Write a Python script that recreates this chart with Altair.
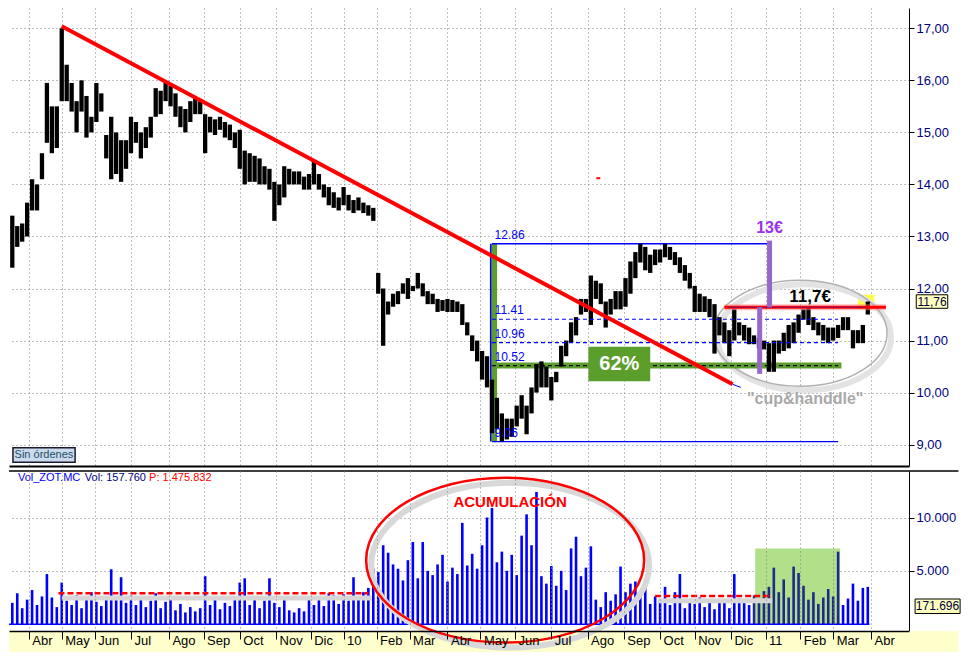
import altair as alt
import pandas as pd

# ---------------- calendar (trading days, Bolsa de Madrid) ----------------
holidays = ["2009-04-10", "2009-04-13", "2009-05-01", "2009-12-24", "2009-12-25",
            "2009-12-31", "2010-01-01", "2010-04-02", "2010-04-05", "2010-12-24",
            "2010-12-31"]
days = pd.bdate_range("2009-03-16", "2011-05-06", freq="C", holidays=holidays)
day_num = pd.Series(range(len(days)), index=days)
firsts = day_num.groupby([days.year, days.month]).first()
tick_idx = [int(v) for (yy, mm), v in firsts.items() if (2009, 4) <= (yy, mm) <= (2011, 4)]

month_labels = ["Abr", "May", "Jun", "Jul", "Ago", "Sep", "Oct", "Nov", "Dic", "10",
                "Feb", "Mar", "Abr", "May", "Jun", "Jul", "Ago", "Sep", "Oct", "Nov",
                "Dic", "11", "Feb", "Mar", "Abr"]
price_ticks = [9, 10, 11, 12, 13, 14, 15, 16, 17]
vol_ticks = [5000, 10000]

# ---------------- price bars (every third session: high / low) ----------------
highs = [
    13.4, 13.2, 13.25, 13.65, 14.1, 14.0, 14.6, 15.95, 15.5, 15.5,
    17.0, 16.3, 15.95, 15.6, 16.0, 15.7, 15.3, 15.95, 15.75, 14.95,
    15.3, 15.0, 14.85, 14.85, 15.3, 15.2, 15.0, 15.1, 15.3, 15.85,
    15.8, 15.95, 15.9, 15.75, 15.5, 15.45, 15.6, 15.67, 15.6, 15.35,
    15.3, 15.25, 15.3, 15.2, 15.15, 15.0, 15.05, 14.65, 14.6, 14.55,
    14.5, 14.35, 14.3, 14.05, 14.0, 14.35, 14.3, 14.25, 14.25, 14.15,
    14.2, 14.45, 14.2, 14.0, 13.95, 13.85, 13.75, 13.95, 13.8, 13.7,
    13.75, 13.65, 13.6, 13.55, 12.3, 12.0, 11.75, 11.9, 11.95, 12.1,
    12.2, 12.05, 12.3, 12.1, 11.95, 11.9, 11.8, 11.78, 11.8, 11.78,
    11.75, 11.7, 11.35, 11.1, 11.0, 10.8, 10.7, 10.25, 9.9, 9.6,
    9.5, 9.5, 9.75, 9.95, 9.75, 10.1, 10.55, 10.6, 10.5, 10.3,
    10.4, 10.9, 11.0, 11.35, 11.45, 11.8, 11.8, 12.25, 12.15, 12.1,
    11.75, 11.8, 11.95, 11.95, 12.2, 12.52, 12.7, 12.86, 12.8, 12.65,
    12.75, 12.75, 12.86, 12.8, 12.7, 12.6, 12.45, 12.3, 12.05, 11.9,
    11.85, 11.8, 11.7, 11.45, 11.35, 11.2, 11.6, 11.35, 11.3, 11.25,
    11.1, 11.05, 11.0, 10.95, 11.0, 11.0, 11.15, 11.3, 11.35, 11.5,
    11.6, 11.65, 11.45, 11.35, 11.3, 11.25, 11.25, 11.3, 11.45, 11.45,
    11.2, 11.2, 11.3, 11.75]
lows = [
    12.4, 12.8, 12.9, 13.0, 13.5, 13.5, 14.1, 14.8, 14.6, 14.7,
    15.6, 15.6, 15.4, 15.0, 15.4, 14.9, 15.0, 15.2, 15.4, 14.5,
    14.1, 14.2, 14.05, 14.3, 14.6, 14.8, 14.5, 14.7, 14.9, 15.3,
    15.35, 15.6, 15.5, 15.3, 15.1, 15.0, 15.2, 15.35, 15.35, 14.6,
    15.0, 14.95, 15.05, 14.9, 14.85, 14.7, 14.3, 14.0, 14.05, 14.05,
    14.0, 14.0, 13.9, 13.3, 13.6, 13.75, 14.0, 14.0, 14.0, 13.9,
    13.9, 14.0, 13.9, 13.75, 13.6, 13.55, 13.5, 13.6, 13.5, 13.45,
    13.5, 13.45, 13.4, 13.3, 11.9, 10.9, 11.5, 11.65, 11.7, 11.9,
    11.8, 11.95, 12.0, 11.85, 11.7, 11.7, 11.55, 11.57, 11.55, 11.55,
    11.55, 11.3, 11.1, 10.8, 10.6, 10.25, 10.1, 9.22, 9.3, 9.06,
    9.1, 9.15, 9.35, 9.5, 9.2, 9.6, 10.0, 10.1, 10.1, 9.85,
    10.2, 10.5, 10.7, 10.96, 11.1, 11.5, 11.55, 11.3, 11.8, 11.7,
    11.25, 11.5, 11.6, 11.6, 11.65, 11.9, 12.2, 12.5, 12.35, 12.3,
    12.45, 12.5, 12.6, 12.55, 12.45, 12.3, 12.15, 12.0, 11.55, 11.55,
    11.55, 11.45, 10.75, 11.1, 10.95, 10.7, 11.0, 11.1, 11.0, 10.93,
    10.93, 10.85, 10.83, 10.4, 10.4, 10.75, 10.8, 10.85, 10.95, 11.15,
    11.4, 11.3, 11.2, 11.1, 11.0, 10.95, 11.0, 11.05, 11.2, 11.2,
    10.85, 10.95, 10.95, 11.5]
vols = [
    2000, 2900, 1500, 2300, 3200, 1800, 2600, 4700, 2500, 1600,
    3900, 2200, 1800, 2700, 1500, 2400, 3000, 2100, 1700, 2600,
    5150, 2300, 4400, 2000, 2700, 1800, 2500, 1600, 2200, 2900,
    1500, 2100, 2400, 1300, 1900, 1100, 1600, 1200, 1500, 4500,
    1800, 2300, 1400, 2000, 1700, 2400, 3900, 4300, 1800, 2400,
    1500, 2200, 4300, 2000, 1600, 2500, 1300, 1100, 1500, 1200,
    2400, 1800, 2300, 1700, 2900, 2700, 1900, 2800, 2200, 4400,
    2400, 3000, 3400, 5200, 4900, 7400, 6700, 5600, 5200, 4100,
    6000, 7700, 4300, 7700, 5000, 4600, 5600, 6500, 4000, 5300,
    4700, 9500, 5500, 6600, 5200, 7400, 10000, 10900, 5800, 6800,
    5000, 6500, 4600, 8300, 10300, 7400, 12400, 4500, 3800, 5450,
    3600, 5000, 3200, 7100, 8200, 4500, 5300, 7300, 2300, 1600,
    3000, 2200, 2800, 5400, 3000, 3800, 4000, 2800, 4200, 1900,
    2600, 2300, 3500, 1800, 3000, 4700, 1500, 2300, 1900, 2500,
    1600, 2200, 1400, 2300, 2000, 1500, 4700, 2400, 2000, 1800,
    2700, 2100, 3100, 3500, 5300, 3000, 4200, 2500, 5400, 4800,
    3600, 2300, 3000, 1900, 2500, 3300, 2600, 6800, 1800, 2400,
    3800, 2200, 3400, 3500]
slot_idx = [2 + 3 * k for k in range(len(highs))]
bars = pd.DataFrame({"idx": slot_idx, "high": highs, "low": lows, "vol": vols})

# ---------------- annotation values (session index, price / volume) ----------------
trend_x = [32, 439]
trend_y = [17.04, 10.16]
trend_tail_x = [439, 444]
trend_tail_y = [10.16, 10.1]
fib_levels = [12.86, 11.41, 10.96, 10.52, 9.06]
fib_text = ["12.86", "11.41", "10.96", "10.52", "9.06"]
fib_left = 293
fib_top_end = 460
fib_end = 503
green_end = 505
box62_x = [351.5, 389]
box62_y = [10.22, 10.88]
purple_x = [461.4, 455.4]
purple_y1 = [12.92, 11.64]
purple_y2 = [11.64, 10.36]
resist_x = [434, 532]
resist_y = 11.64
cup_center = (480, 11.14)
vol_avg_x1 = [30, 392]
vol_avg_x2 = [218, 461]
vol_avg_y = [2900, 2640]
acum_center = (301, 6000)
green_box_x = [452.7, 504.2]
green_box_y = [0, 7100]

XS = alt.Scale(domain=[0, 546], nice=False, zero=False)
PS = alt.Scale(domain=[8.59, 17.39], nice=False, zero=False)
VS = alt.Scale(domain=[-640, 14360], nice=False, zero=False)

GRID = dict(grid=True, gridColor="#808080", gridDash=[1, 3], gridWidth=1)
label_expr = ("[" + ",".join("'%s'" % m for m in month_labels) + "][indexof(["
              + ",".join(str(t) for t in tick_idx) + "], datum.value)]")

price_x_axis = alt.Axis(values=tick_idx, labels=False, ticks=False, title=None,
                        domainColor="black", domainWidth=2, **GRID)
vol_x_axis = alt.Axis(values=tick_idx, labelExpr=label_expr, labelAlign="left",
                      labelBaseline="top", labelOffset=3, labelPadding=-5, tickSize=8,
                      tickColor="black", labelColor="black", labelFontSize=13,
                      labelFlush=False, labelOverlap=False, title=None,
                      domainColor="black", domainWidth=1.5, zindex=1, **GRID)
price_y_axis = alt.Axis(orient="right", values=price_ticks,
                        labelExpr="replace(format(datum.value, '.2f'), '.', ',')",
                        tickSize=5, tickColor="black", domainColor="black",
                        labelColor="#000080", labelFontSize=13, labelPadding=2,
                        title=None, **GRID)
vol_y_axis = alt.Axis(orient="right", values=vol_ticks,
                      labelExpr="replace(format(datum.value, ','), ',', '.')",
                      tickSize=5, tickColor="black", domainColor="black",
                      labelColor="#000080", labelFontSize=13, labelPadding=2,
                      title=None, **GRID)


def px(f):
    return alt.X(f + ":Q", scale=XS, axis=price_x_axis)


def py(f):
    return alt.Y(f + ":Q", scale=PS, axis=price_y_axis)


def vx(f):
    return alt.X(f + ":Q", scale=XS, axis=vol_x_axis)


def vy(f):
    return alt.Y(f + ":Q", scale=VS, axis=vol_y_axis)


def ellipse_path(a):
    k = 0.5523
    return ("M-1,0C-1,{b},-{k},-{a},0,-{a}C{k},-{a},1,{b},1,0C1,{c},{k},{a},0,{a}"
            "C-{k},{a},-1,{c},-1,0Z").format(a=a, b=-k * a, c=k * a, k=k)


def df(**kw):
    return pd.DataFrame(kw)


GREEN = "#5C9E2C"

# ---------------- price panel ----------------
layers = []
layers.append(alt.Chart(df(x1=[515], x2=[525], y1=[11.60], y2=[11.88])).mark_rect(
    color="#FFFF33", opacity=0.9).encode(x=px("x1"), x2="x2", y=py("y1"), y2="y2"))
# cup ellipse (shadow + ring)
layers.append(alt.Chart(df(x=[cup_center[0] + 2.4], y=[cup_center[1] - 0.077])).mark_point(
    shape=ellipse_path(0.61), size=30140, filled=False, color="#e3e3e3",
    strokeWidth=6, opacity=1).encode(x=px("x"), y=py("y")))
layers.append(alt.Chart(df(x=[cup_center[0]], y=[cup_center[1]])).mark_point(
    shape=ellipse_path(0.61), size=30140, filled=False, color="#b0b0b0",
    strokeWidth=1.5, opacity=1).encode(x=px("x"), y=py("y")))
# green fibonacci bars
layers.append(alt.Chart(df(x=[fib_left + 1.3], y1=[fib_levels[-1]], y2=[fib_levels[0]])).mark_rule(
    color=GREEN, strokeWidth=6).encode(x=px("x"), y=py("y1"), y2="y2"))
layers.append(alt.Chart(df(x1=[fib_left], x2=[green_end], y=[fib_levels[3]])).mark_rule(
    color=GREEN, strokeWidth=6).encode(x=px("x1"), x2="x2", y=py("y")))
# blue fibonacci frame
layers.append(alt.Chart(df(x1=[fib_left, fib_left], x2=[fib_top_end, fib_end],
                           y=[fib_levels[0], fib_levels[-1]])).mark_rule(
    color="#0000FF", strokeWidth=1.3).encode(x=px("x1"), x2="x2", y=py("y")))
layers.append(alt.Chart(df(x=[fib_left - 0.8], y1=[fib_levels[-1]], y2=[fib_levels[0]])).mark_rule(
    color="#0000FF", strokeWidth=1.5).encode(x=px("x"), y=py("y1"), y2="y2"))
# price bars
layers.append(alt.Chart(bars).mark_rule(color="black", strokeWidth=4.3).encode(
    x=px("idx"), y=py("low"), y2="high"))
# dashed fib levels
layers.append(alt.Chart(df(x1=[fib_left, fib_left], x2=[fib_end, fib_end],
                           y=[fib_levels[1], fib_levels[2]])).mark_rule(
    color="#0000FF", strokeWidth=1.2, strokeDash=[4, 3]).encode(x=px("x1"), x2="x2", y=py("y")))
layers.append(alt.Chart(df(x1=[fib_left], x2=[fib_end], y=[fib_levels[3]])).mark_rule(
    color="black", strokeWidth=1.2, strokeDash=[4, 3]).encode(x=px("x1"), x2="x2", y=py("y")))
# 62% box
layers.append(alt.Chart(df(x1=[box62_x[0]], x2=[box62_x[1]], y1=[box62_y[0]], y2=[box62_y[1]])).mark_rect(
    color=GREEN).encode(x=px("x1"), x2="x2", y=py("y1"), y2="y2"))
layers.append(alt.Chart(df(x=[sum(box62_x) / 2], y=[sum(box62_y) / 2], t=["62%"])).mark_text(
    color="white", fontSize=20, fontWeight="bold").encode(x=px("x"), y=py("y"), text="t:N"))
# trend line
layers.append(alt.Chart(df(x=trend_x, y=trend_y)).mark_line(color="#FF0000", strokeWidth=4).encode(
    x=px("x"), y=py("y")))
layers.append(alt.Chart(df(x=trend_tail_x, y=trend_tail_y)).mark_line(color="#0000FF", strokeWidth=1).encode(
    x=px("x"), y=py("y")))
# resistance line 11,7
layers.append(alt.Chart(df(x1=[resist_x[0]], x2=[resist_x[1]], y=[resist_y])).mark_rule(
    color="#FF8080", strokeWidth=6, opacity=0.5).encode(x=px("x1"), x2="x2", y=py("y")))
layers.append(alt.Chart(df(x1=[resist_x[0]], x2=[resist_x[1]], y=[resist_y])).mark_rule(
    color="#FF0000", strokeWidth=3).encode(x=px("x1"), x2="x2", y=py("y")))
layers.append(alt.Chart(df(x1=[resist_x[0] + 2], x2=[resist_x[1] - 12], y=[resist_y])).mark_rule(
    color="#8A1060", strokeWidth=1).encode(x=px("x1"), x2="x2", y=py("y")))
# purple target bars
layers.append(alt.Chart(df(x=purple_x, y1=purple_y1, y2=purple_y2)).mark_rule(
    color="#9966CC", strokeWidth=5).encode(x=px("x"), y=py("y1"), y2="y2"))
layers.append(alt.Chart(df(x=[purple_x[0]], y=[13.17], t=["13€"])).mark_text(
    color="#9933EE", fontSize=16, fontWeight="bold").encode(x=px("x"), y=py("y"), text="t:N"))
layers.append(alt.Chart(df(x=[486], y=[11.84], t=["11,7€"])).mark_text(
    color="black", fontSize=17, fontWeight="bold").encode(x=px("x"), y=py("y"), text="t:N"))
layers.append(alt.Chart(df(x=[483], y=[9.88], t=['"cup&handdle"'])).mark_text(
    color="#A9A9A9", fontSize=16, fontWeight="bold").encode(x=px("x"), y=py("y"), text="t:N"))
# fib labels
layers.append(alt.Chart(df(x=[fib_left + 1.6] * 5, y=fib_levels, t=fib_text)).mark_text(
    color="#0000FF", fontSize=12, align="left", baseline="bottom", dy=-2).encode(
    x=px("x"), y=py("y"), text="t:N"))
# stray red dash
layers.append(alt.Chart(df(x1=[356.3], x2=[358.7], y=[14.12])).mark_rule(
    color="#FF0000", strokeWidth=2).encode(x=px("x1"), x2="x2", y=py("y")))
# "Sin órdenes" button
layers.append(alt.Chart(df(x1=[2.4], x2=[40.1], y1=[8.66], y2=[8.94])).mark_rect(
    color="#CCDAEE", stroke="#1a1a2e", strokeWidth=1.5).encode(x=px("x1"), x2="x2", y=py("y1"), y2="y2"))
layers.append(alt.Chart(df(x=[21.2], y=[8.8], t=["Sin órdenes"])).mark_text(
    color="#1F4E5F", fontSize=11).encode(x=px("x"), y=py("y"), text="t:N"))
# last price tag
layers.append(alt.Chart(df(x1=[550.4], x2=[569.5], y1=[11.62], y2=[11.88])).mark_rect(
    color="#FFFFC0", stroke="black", strokeWidth=1).encode(x=px("x1"), x2="x2", y=py("y1"), y2="y2"))
layers.append(alt.Chart(df(x=[560], y=[11.75], t=["11,76"])).mark_text(
    color="#000040", fontSize=12).encode(x=px("x"), y=py("y"), text="t:N"))

price_panel = alt.layer(*layers).properties(width=900, height=458)

# ---------------- volume panel ----------------
vl = []
vl.append(alt.Chart(df(x1=[0], x2=[576], y1=[-640], y2=[-2610])).mark_rect(
    color="#FFFFCC").encode(x=vx("x1"), x2="x2", y=vy("y1"), y2="y2"))
vl.append(alt.Chart(df(x1=[0], x2=[576], y=[14360])).mark_rule(
    color="black", strokeWidth=1.5).encode(x=vx("x1"), x2="x2", y=vy("y")))
vl.append(alt.Chart(df(x1=[green_box_x[0]], x2=[green_box_x[1]], y1=[green_box_y[0]], y2=[green_box_y[1]])).mark_rect(
    color="#B2E08A").encode(x=vx("x1"), x2="x2", y=vy("y1"), y2="y2"))
vl.append(alt.Chart(bars).transform_calculate(
    c="datum.idx >= 452 && datum.idx <= 504 ? '#1E2A8C' : '#0000FF'"
).mark_rule(strokeWidth=2.6).encode(
    x=vx("idx"), y=vy("vol"), y2=alt.datum(0), color=alt.Color("c:N", scale=None)))
vl.append(alt.Chart(df(x1=[0], x2=[522], y=[0])).mark_rule(
    color="#0000FF", strokeWidth=1.5).encode(x=vx("x1"), x2="x2", y=vy("y")))
vl.append(alt.Chart(df(x1=[vol_avg_x1[0] + 2, vol_avg_x1[1] + 2], x2=[vol_avg_x2[0] + 2, vol_avg_x2[1] + 2],
                       y=[vol_avg_y[0] - 450, vol_avg_y[1] - 450])).mark_rule(
    color="#d6d6d6", strokeWidth=5).encode(x=vx("x1"), x2="x2", y=vy("y")))
vl.append(alt.Chart(df(x1=vol_avg_x1, x2=vol_avg_x2, y=vol_avg_y)).mark_rule(
    color="#FF0000", strokeWidth=2.5, strokeDash=[6, 3]).encode(x=vx("x1"), x2="x2", y=vy("y")))
vl.append(alt.Chart(df(x=[acum_center[0] + 3], y=[acum_center[1] - 470])).mark_point(
    shape=ellipse_path(0.593), size=77284, filled=False, color="#d8d8d8",
    strokeWidth=6, opacity=1).encode(x=vx("x"), y=vy("y")))
vl.append(alt.Chart(df(x=[acum_center[0]], y=[acum_center[1]])).mark_point(
    shape=ellipse_path(0.593), size=77284, filled=False, color="#FF0000",
    strokeWidth=2.5, opacity=1).encode(x=vx("x"), y=vy("y")))
vl.append(alt.Chart(df(x=[304], y=[11450], t=["ACUMULACIÓN"])).mark_text(
    color="#FF0000", fontSize=15, fontWeight="bold").encode(x=vx("x"), y=vy("y"), text="t:N"))
vl.append(alt.Chart(df(x=[5.4, 46, 85], y=[13700] * 3,
                       t=["Vol_ZOT.MC", "Vol: 157.760", "P: 1.475.832"],
                       c=["#0000FF", "#000080", "#FF0000"])).mark_text(
    fontSize=11, align="left").encode(x=vx("x"), y=vy("y"), text="t:N",
                                       color=alt.Color("c:N", scale=None)))
vl.append(alt.Chart(df(x1=[549.7], x2=[577], y1=[1000], y2=[2360])).mark_rect(
    color="#FFFFC0", stroke="black", strokeWidth=1).encode(x=vx("x1"), x2="x2", y=vy("y1"), y2="y2"))
vl.append(alt.Chart(df(x=[563.3], y=[1680], t=["171.696"])).mark_text(
    color="#000040", fontSize=12).encode(x=vx("x"), y=vy("y"), text="t:N"))

vol_panel = alt.layer(*vl).properties(width=900, height=160)

chart = alt.vconcat(price_panel, vol_panel, spacing=4).properties(
    padding={"left": 0, "top": 0, "right": 0, "bottom": 0}
).configure(font="Liberation Sans").configure_view(strokeWidth=0)

chart.save("out.html", embed_options={"renderer": "svg", "actions": False})
